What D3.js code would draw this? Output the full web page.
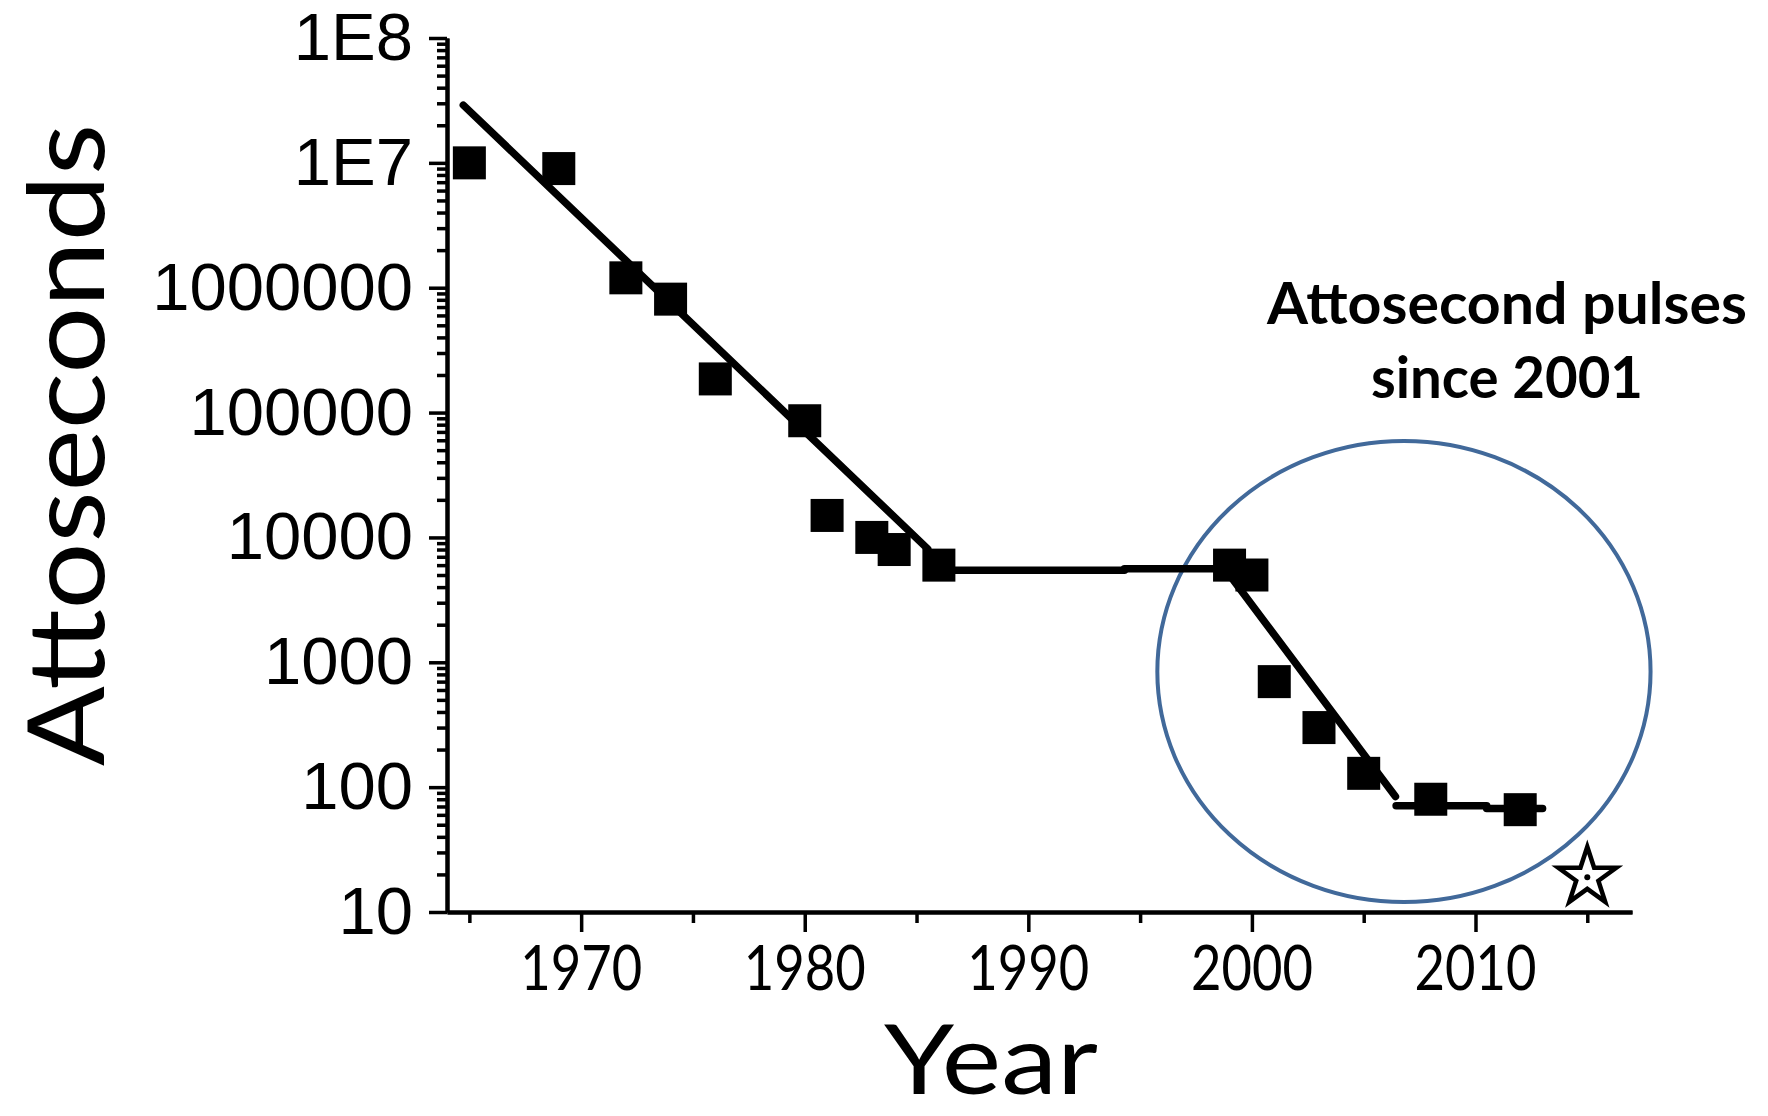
<!DOCTYPE html>
<html>
<head>
<meta charset="utf-8">
<script src="https://cdn.jsdelivr.net/npm/d3@7/dist/d3.min.js"></script>
<style>
  html, body { margin: 0; padding: 0; background: #ffffff; }
  svg { display: block; }
</style>
</head>
<body>
<svg id="chart" width="1768" height="1116"></svg>
<script>
// Shortest pulse duration reported per year (attoseconds)
const years   = [1965, 1969, 1972, 1974, 1976, 1980, 1981, 1983, 1984, 1986, 1999, 2000, 2001, 2003, 2005, 2008, 2012];
const seconds = [1.0e7, 9.0e6, 1.2e6, 8.1e5, 1.86e5, 8.6e4, 1.5e4, 1.0e4, 8.0e3, 6.0e3, 6.0e3, 5.0e3, 700, 300, 129, 80, 66];

// Piecewise trend segments (start / end of each piece)
const trendStartYears  = [1964.73, 1986, 1994.3, 1999, 2006.45, 2010.5];
const trendStartValues = [2.9e7, 5460, 5610, 5000, 71, 67.3];
const trendEndYears    = [1985.5, 1994.3, 1999, 2006.42, 2010.5, 2013];
const trendEndValues   = [8100, 5460, 5610, 84, 71, 67.3];

// Projected value (open star)
const projectedYears  = [2015];
const projectedValues = [19];

// Highlighted attosecond era (ellipse bounds)
const highlightYears   = [1995.77, 2017.83];
const highlightSeconds = [12, 59200];
const noteLines = ["Attosecond pulses", "since 2001"];

// Axes
const xMajorTicks = [1970, 1980, 1990, 2000, 2010];
const xMinorTicks = [1965, 1975, 1985, 1995, 2005, 2015];
const yMajorTicks = [1e1, 1e2, 1e3, 1e4, 1e5, 1e6, 1e7, 1e8];
const yTickLabels = ["10", "100", "1000", "10000", "100000", "1000000", "1E7", "1E8"];
const xTitle = "Year";
const yTitle = "Attoseconds";

const svg = d3.select("#chart");

const x = d3.scaleLinear().domain([1964, 2017]).range([447, 1632]);
const y = d3.scaleLog().domain([10, 1e8]).range([912, 38]);

const yMinorTicks = [];
for (let e = 1; e < 8; e++) {
  for (let m = 2; m <= 9; m++) yMinorTicks.push(m * Math.pow(10, e));
}

// ----- axes -----
const axisG = svg.append("g");

const xAxisMinor = d3.axisBottom(x).tickValues(xMinorTicks).tickSize(11).tickSizeOuter(0).tickFormat("");
const xAxisMajor = d3.axisBottom(x).tickValues(xMajorTicks).tickSize(20).tickSizeOuter(0).tickFormat("");
const yAxisMinor = d3.axisLeft(y).tickValues(yMinorTicks).tickSize(10).tickSizeOuter(0).tickFormat("");
const yAxisMajor = d3.axisLeft(y).tickValues(yMajorTicks).tickSize(18).tickSizeOuter(0).tickPadding(16)
  .tickFormat((d, i) => yTickLabels[i]);

const gxMinor = axisG.append("g").attr("transform", "translate(0,912)").call(xAxisMinor);
const gxMajor = axisG.append("g").attr("transform", "translate(0,912)").call(xAxisMajor);
const gyMinor = axisG.append("g").attr("transform", "translate(447,0)").call(yAxisMinor);
const gyMajor = axisG.append("g").attr("transform", "translate(447,0)").call(yAxisMajor);

[gxMinor, gxMajor, gyMinor, gyMajor].forEach(g => {
  g.select(".domain").attr("stroke", "#000").attr("stroke-width", 4);
  g.selectAll(".tick line").attr("stroke", "#000").attr("stroke-width", 3.5);
});
[gxMinor, gyMinor, gxMajor].forEach(g => g.selectAll(".tick text").remove());

gyMajor.selectAll(".tick text")
  .attr("font-family", "'Liberation Sans', Arial, sans-serif")
  .attr("font-size", 67)
  .attr("fill", "#000");

// x tick labels (narrow humanist face)
axisG.append("g").selectAll("text")
  .data(xMajorTicks)
  .join("text")
  .attr("x", d => x(d))
  .attr("y", 990)
  .attr("text-anchor", "middle")
  .attr("font-family", "Lato, 'Open Sans', sans-serif")
  .attr("font-size", 62)
  .attr("textLength", 122)
  .attr("lengthAdjust", "spacingAndGlyphs")
  .attr("fill", "#000")
  .text(d => d);

// axis titles
svg.append("text")
  .attr("x", 991).attr("y", 1094)
  .attr("text-anchor", "middle")
  .attr("font-family", "Lato, 'Open Sans', sans-serif")
  .attr("font-size", 97)
  .attr("textLength", 214)
  .attr("lengthAdjust", "spacingAndGlyphs")
  .attr("fill", "#000")
  .text(xTitle);

svg.append("text")
  .attr("transform", "translate(104,445) rotate(-90)")
  .attr("text-anchor", "middle")
  .attr("font-family", "Lato, 'Open Sans', sans-serif")
  .attr("font-size", 106)
  .attr("textLength", 642)
  .attr("lengthAdjust", "spacingAndGlyphs")
  .attr("fill", "#000")
  .text(yTitle);

// ----- highlight ellipse -----
const ex0 = x(highlightYears[0]), ex1 = x(highlightYears[1]);
const ey0 = y(highlightSeconds[1]), ey1 = y(highlightSeconds[0]);
svg.append("ellipse")
  .attr("cx", (ex0 + ex1) / 2)
  .attr("cy", (ey0 + ey1) / 2)
  .attr("rx", (ex1 - ex0) / 2)
  .attr("ry", (ey1 - ey0) / 2)
  .attr("fill", "none")
  .attr("stroke", "#41699A")
  .attr("stroke-width", 4);

// annotation
svg.append("g").selectAll("text")
  .data(noteLines)
  .join("text")
  .attr("x", 1507)
  .attr("y", (d, i) => 324 + i * 74)
  .attr("text-anchor", "middle")
  .attr("font-family", "Lato, 'Open Sans', sans-serif")
  .attr("font-weight", 700)
  .attr("font-size", 58)
  .attr("textLength", (d, i) => i === 0 ? 480 : 272)
  .attr("lengthAdjust", "spacingAndGlyphs")
  .attr("fill", "#000")
  .text(d => d);

// ----- trend segments -----
const line = d3.line().x(d => x(d[0])).y(d => y(d[1]));
const segments = trendStartYears.map((s, i) => [
  [s, trendStartValues[i]],
  [trendEndYears[i], trendEndValues[i]]
]);
svg.append("g").selectAll("path")
  .data(segments)
  .join("path")
  .attr("d", line)
  .attr("fill", "none")
  .attr("stroke", "#000")
  .attr("stroke-width", 7.5)
  .attr("stroke-linecap", "round");

// ----- measured points -----
const pts = years.map((yr, i) => ({ year: yr, value: seconds[i] }));
const side = 33;
svg.append("g").selectAll("rect")
  .data(pts)
  .join("rect")
  .attr("x", d => x(d.year) - side / 2)
  .attr("y", d => y(d.value) - side / 2)
  .attr("width", side)
  .attr("height", side)
  .attr("fill", "#000");

// ----- projected point -----
const proj = projectedYears.map((yr, i) => ({ year: yr, value: projectedValues[i] }));
const starG = svg.append("g").selectAll("g")
  .data(proj)
  .join("g")
  .attr("transform", d => `translate(${x(d.year)},${y(d.value)})`);
starG.append("path")
  .attr("d", d3.symbol(d3.symbolStar, 1044)())
  .attr("fill", "#fff")
  .attr("stroke", "#000")
  .attr("stroke-width", 4.5)
  .attr("stroke-linejoin", "miter");
starG.append("circle")
  .attr("r", 3)
  .attr("fill", "#000");
</script>
</body>
</html>
